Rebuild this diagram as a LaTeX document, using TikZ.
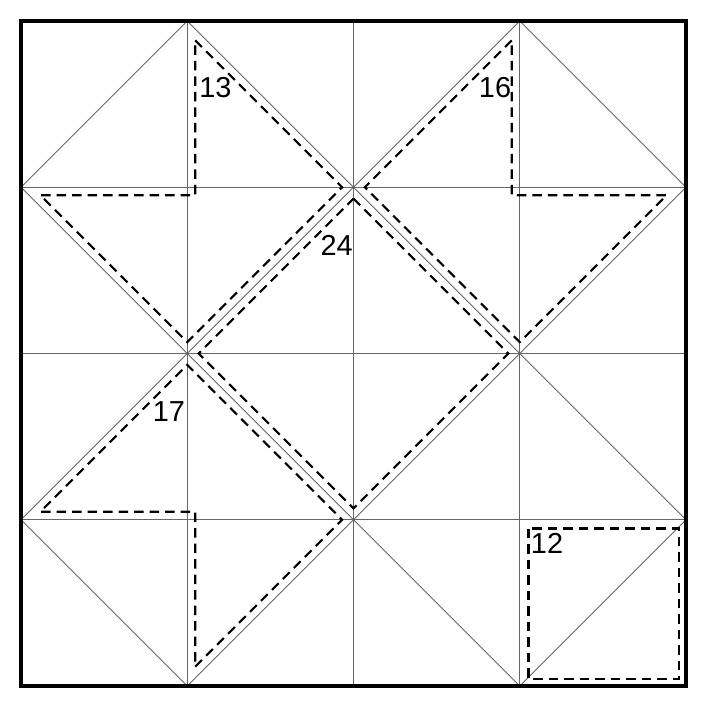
\documentclass[tikz,border=0pt]{standalone}
\usepackage{fontspec}
\setmainfont{Liberation Sans}
\begin{document}
\begin{tikzpicture}[x=1bp,y=-1bp,
  thinline/.style={draw=black!60,line width=0.8bp},
  fold/.style={draw=black,line width=2.1bp,dash pattern=on 9.5bp off 6bp,line join=miter},
  lab/.style={font=\fontsize{29}{29}\selectfont,inner sep=0pt}]
\useasboundingbox (0,0) rectangle (708,708);
% grid
\foreach \g in {187.25,353.5,519.75} {
  \draw[thinline] (\g,21) -- (\g,686);
  \draw[thinline] (21,\g) -- (686,\g);
}
% diagonals
\draw[thinline] (187.25,21) -- (21,187.25);
\draw[thinline] (187.25,21) -- (686,519.75);
\draw[thinline] (519.75,21) -- (686,187.25);
\draw[thinline] (519.75,21) -- (21,519.75);
\draw[thinline] (21,187.25) -- (519.75,686);
\draw[thinline] (21,519.75) -- (187.25,686);
\draw[thinline] (686,187.25) -- (187.25,686);
\draw[thinline] (686,519.75) -- (519.75,686);
% dashed regions
\draw[fold] (195.25,40.31) -- (342.19,187.25) -- (187.25,342.19) -- (40.31,195.25) -- (195.25,195.25) -- cycle;
\draw[fold] (511.75,40.31) -- (364.81,187.25) -- (519.75,342.19) -- (666.69,195.25) -- (511.75,195.25) -- cycle;
\draw[fold] (195.25,666.69) -- (342.19,519.75) -- (187.25,364.81) -- (40.31,511.75) -- (195.25,511.75) -- cycle;
\draw[fold] (353.5,198.56) -- (508.44,353.5) -- (353.5,508.44) -- (198.56,353.5) -- cycle;
\draw[fold] (528.5,528.5) rectangle (679,679);
% border
\draw[line width=3.5bp] (21,21) rectangle (686,686);
% labels
\node[lab] (l13) at (215.5,88) {13};
\node[lab] (l16) at (495,87.5) {16};
\node[lab] (l24) at (336.7,245) {24};
\node[lab] (l17) at (169,411.7) {17};
\node[lab] (l12) at (547,543.5) {12};
\end{tikzpicture}
\end{document}
